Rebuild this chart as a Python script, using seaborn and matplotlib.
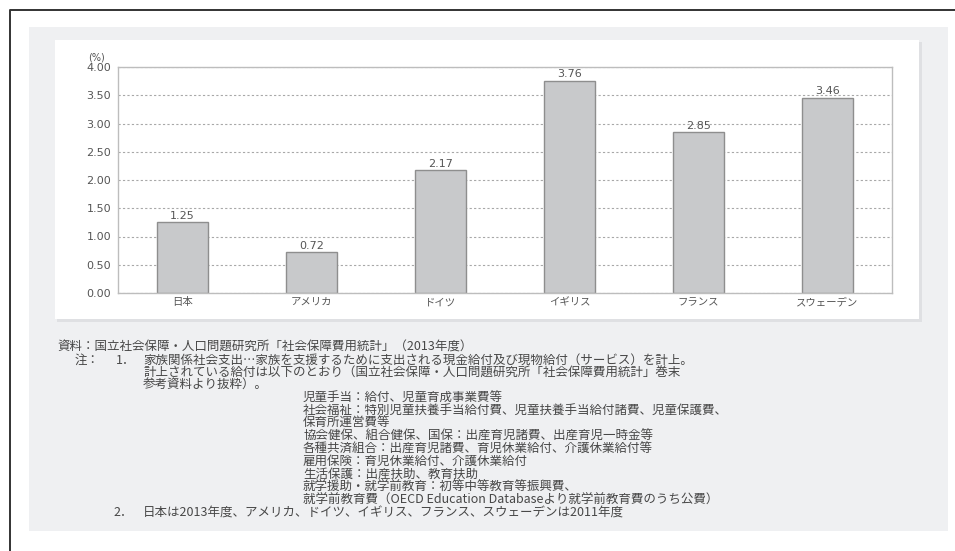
import matplotlib
matplotlib.use("Agg")
import matplotlib.pyplot as plt
from matplotlib.patches import Rectangle
from matplotlib.lines import Line2D
import seaborn as sns

countries = ['日本', 'アメリカ', 'ドイツ', 'イギリス', 'フランス', 'スウェーデン']
values = [1.25, 0.72, 2.17, 3.76, 2.85, 3.46]
yticks = [0.0, 0.5, 1.0, 1.5, 2.0, 2.5, 3.0, 3.5, 4.0]

source_line = '資料：国立社会保障・人口問題研究所「社会保障費用統計」（2013年度）'
note1_lines = [
    '家族関係社会支出…家族を支援するために支出される現金給付及び現物給付（サービス）を計上。',
    '計上されている給付は以下のとおり（国立社会保障・人口問題研究所「社会保障費用統計」巻末',
    '参考資料より抜粋）。',
]
benefit_lines = [
    '児童手当：給付、児童育成事業費等',
    '社会福祉：特別児童扶養手当給付費、児童扶養手当給付諸費、児童保護費、',
    '保育所運営費等',
    '協会健保、組合健保、国保：出産育児諸費、出産育児一時金等',
    '各種共済組合：出産育児諸費、育児休業給付、介護休業給付等',
    '雇用保険：育児休業給付、介護休業給付',
    '生活保護：出産扶助、教育扶助',
    '就学援助・就学前教育：初等中等教育等振興費、',
    '就学前教育費（OECD Education Databaseより就学前教育費のうち公費）',
]
note2_line = '日本は2013年度、アメリカ、ドイツ、イギリス、フランス、スウェーデンは2011年度'

sns.set_style('white')
plt.rcParams['font.family'] = ['Noto Sans CJK JP', 'DejaVu Sans']

W, H = 955, 551
fig = plt.figure(figsize=(W / 100, H / 100), dpi=100)
fig.patch.set_facecolor('white')


def px_rect(x0, y0, x1, y1, **kw):
    # rectangle given in pixel coords (top-left origin)
    r = Rectangle((x0 / W, 1 - y1 / H), (x1 - x0) / W, (y1 - y0) / H,
                  transform=fig.transFigure, zorder=-5, **kw)
    fig.patches.append(r)


# outer frame (left + top only)
fig.lines.append(Line2D([10 / W, 10 / W, 1.0], [0.0, 1 - 10 / H, 1 - 10 / H],
                        transform=fig.transFigure, color='#333333', lw=1.4,
                        zorder=-5))
# grey panel, shadow, white chart box
px_rect(29, 27, 948, 531, facecolor='#eff0f2', edgecolor='none')
px_rect(57, 42, 922, 322, facecolor='#dfe0e3', edgecolor='none')
px_rect(55, 40, 919, 319, facecolor='white', edgecolor='none')

ax = fig.add_axes([118 / W, 1 - 293 / H, (892 - 118) / W, (293 - 67) / H])
ax.set_facecolor('white')

sns.barplot(x=countries, y=values, color='#c8c9cb', edgecolor='#8e8e8e',
            linewidth=1.0, width=0.4, saturation=1, ax=ax)

ax.set_ylim(0, 4)
ax.set_xlim(-0.5, len(countries) - 0.5)
ax.set_yticks(yticks)
ax.set_yticklabels([f'{v:.2f}' for v in yticks], fontfamily='DejaVu Sans',
                   fontsize=8, color='#555555')
ax.tick_params(axis='x', length=0, pad=3, labelsize=7.5, labelcolor='#555555')
ax.tick_params(axis='y', length=0, pad=5)
ax.set_xlabel('')
ax.set_ylabel('')
ax.yaxis.grid(True, linestyle=(0, (2, 2)), color='#a8a8a8', lw=0.8)
ax.set_axisbelow(True)
for s in ax.spines.values():
    s.set_color('#bdbdbd')
    s.set_linewidth(1.0)

ax.bar_label(ax.containers[0], labels=[f'{v:.2f}' for v in values], padding=1,
             fontsize=8, color='#555555', fontfamily='DejaVu Sans')
ax.text(-0.028, 1.04, '(%)', transform=ax.transAxes, fontsize=7,
        color='#555555', ha='center', va='center', fontfamily='DejaVu Sans')

# notes under the chart
txt = dict(fontsize=9, color='#474747', va='center', ha='left')
y0, step = 347.5, 12.7
fig.text(57 / W, 1 - y0 / H, source_line, **txt)
y = y0 + step
fig.text(75 / W, 1 - y / H, '注：', **txt)
fig.text(116 / W, 1 - y / H, '1．', **txt)
for line in note1_lines:
    fig.text(143 / W, 1 - y / H, line, **txt)
    y += step
for line in benefit_lines:
    fig.text(303 / W, 1 - y / H, line, **txt)
    y += step
fig.text(113 / W, 1 - y / H, '2．', **txt)
fig.text(143 / W, 1 - y / H, note2_line, **txt)

fig.savefig('out.png', dpi=100)
